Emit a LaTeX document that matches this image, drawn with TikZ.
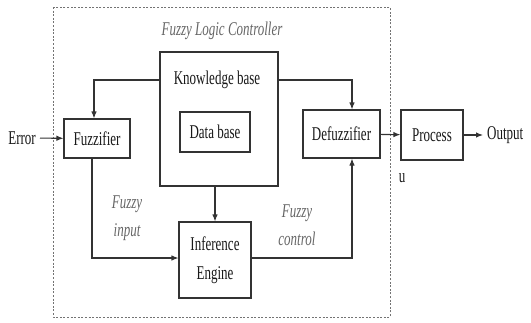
\documentclass[tikz,border=0pt]{standalone}
\usepackage{graphicx}
\usepackage{fontspec}
\setmainfont{Liberation Serif}
\usetikzlibrary{arrows.meta}
\newcommand\tall[1]{\scalebox{1}[1.5]{#1}}
\begin{document}
\begin{tikzpicture}[x=1pt,y=-1pt,
  box/.style={draw=black!80, line width=1.1pt, inner sep=0pt, text=black!90,
    font=\fontsize{13}{29}\selectfont, align=center},
  txt/.style={text=black!90, font=\fontsize{13}{29}\selectfont, inner sep=0pt},
  arr/.style={draw=black!80, line width=1.1pt, -{Latex[length=7pt,width=5.5pt]}},
  lbl/.style={font=\fontsize{13}{28}\selectfont\itshape, text=black!60, align=center, inner sep=0pt}]
\useasboundingbox (0,0) rectangle (531,322);
\fill[white] (0,0) rectangle (531,322);
\draw[black!55, line width=1pt, dash pattern=on 2pt off 1.6pt] (53,7) rectangle (390,317);
\node[lbl] (title) at (222,31) {\tall{Fuzzy Logic Controller}};
\node[box, minimum width=118pt, minimum height=134pt] (kb) at (219,119) {};
\node[txt] (kbt) at (217,80) {\tall{Knowledge base}};
\node[box, minimum width=70pt, minimum height=40pt] (db) at (215,132) {\tall{Data base}};
\node[box, minimum width=66pt, minimum height=39pt] (fz) at (97,138.5) {\tall{Fuzzifier}};
\node[box, minimum width=77pt, minimum height=48pt] (dfz) at (341.5,134) {\tall{Defuzzifier}};
\node[box, minimum width=62pt, minimum height=50pt] (proc) at (432,135) {\tall{Process}};
\node[box, minimum width=72pt, minimum height=76pt] (ie) at (215,260) {\tall{Inference}\\\tall{Engine}};
\node[txt, anchor=east] (err) at (36,138) {\tall{Error}};
\node[txt, anchor=west] (out) at (487,135) {\tall{Output}};
\node[txt] (u) at (402,178) {\tall{u}};
\node[lbl] (fin) at (127,218) {\tall{Fuzzy}\\\tall{input}};
\node[lbl] (fct) at (297,225) {\tall{Fuzzy}\\\tall{control}};
\draw[arr, shorten <=4pt] (err) -- (fz);
\draw[arr] (kbt -| kb.west) -| ([xshift=-3pt]fz.north);
\draw[arr] (kbt -| kb.east) -| ([xshift=10.5pt]dfz.north);
\draw[arr] (kb.south -| ie.north) -- (ie.north);
\draw[arr] ([xshift=-5pt]fz.south) |- ([yshift=2pt]ie.west);
\draw[arr] ([yshift=2pt]ie.east) -| ([xshift=10.5pt]dfz.south);
\draw[arr] (dfz) -- (proc);
\draw[arr, shorten >=4pt] (proc) -- (out);
\end{tikzpicture}
\end{document}
